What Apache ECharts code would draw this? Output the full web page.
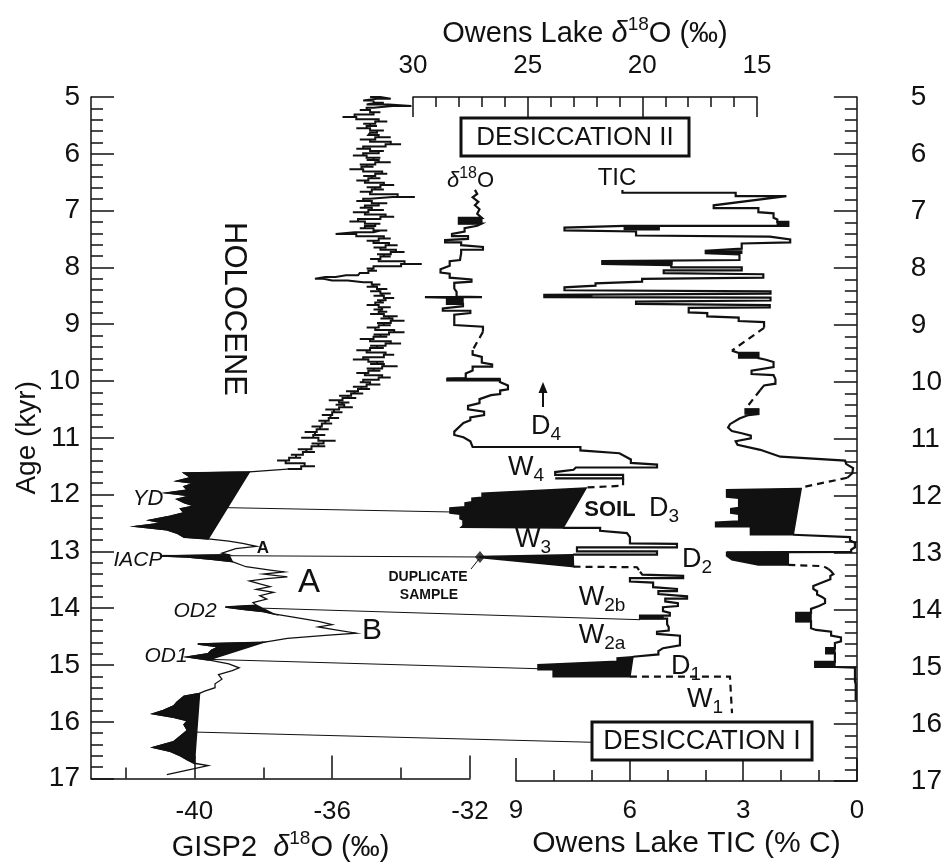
<!DOCTYPE html>
<html><head><meta charset="utf-8">
<script src="https://cdn.jsdelivr.net/npm/echarts@6/dist/echarts.min.js"></script>
<style>html,body{margin:0;padding:0;background:#fff}#c{width:945px;height:867px}</style>
</head><body><div id="c"></div>
<script>
const FONT = '"Liberation Sans", Arial, Helvetica, sans-serif';
const INK = '#111';

// ---- axis ticks ----
const ageTicks = [5,6,7,8,9,10,11,12,13,14,15,16,17];
const gispRange = [-43, -32];
const gispMajorTicks = [-40, -36, -32];
const gispMinorTicks = [-42, -38, -34];
const ticTicks = [0, 3, 6, 9];
const owensO18Ticks = [15, 20, 25, 30];

// ---- GISP2 d18O  [value (permil), age (kyr)] ----
const gisp2 = [
[-34.9,5.00],[-34.3,5.03],[-35.1,5.06],[-34.5,5.10],[-35.0,5.13],[-33.7,5.16],[-34.8,5.19],[-35.2,5.23],[-34.6,5.27],[-35.0,5.31],
[-35.7,5.35],[-34.9,5.39],[-34.4,5.43],[-35.1,5.47],[-34.7,5.51],[-35.3,5.55],[-34.5,5.59],[-34.9,5.63],[-35.0,5.67],[-34.3,5.71],
[-35.2,5.75],[-34.6,5.79],[-34.0,5.83],[-34.9,5.87],[-35.3,5.91],[-34.5,5.95],[-34.8,5.99],[-35.4,6.03],[-34.6,6.07],[-35.0,6.11],
[-34.3,6.15],[-35.2,6.19],[-34.8,6.23],[-35.5,6.27],[-34.7,6.31],[-34.4,6.35],[-35.1,6.39],[-34.6,6.43],[-35.3,6.47],[-34.8,6.51],
[-34.2,6.55],[-35.0,6.59],[-34.5,6.63],[-35.2,6.67],[-34.6,6.71],[-33.6,6.76],[-34.9,6.79],[-35.3,6.83],[-34.4,6.87],[-34.9,6.91],
[-35.2,6.95],[-34.5,6.99],[-35.4,7.03],[-34.7,7.07],[-34.2,7.11],[-35.0,7.15],[-35.5,7.19],[-34.6,7.23],[-34.9,7.27],[-35.2,7.31],
[-34.4,7.35],[-34.8,7.38],[-35.9,7.41],[-34.7,7.45],[-34.3,7.49],[-35.0,7.53],[-34.6,7.57],[-34.1,7.61],[-34.8,7.65],[-34.4,7.69],
[-33.9,7.73],[-34.7,7.77],[-34.3,7.81],[-34.9,7.85],[-34.4,7.89],[-33.4,7.94],[-34.6,7.98],[-35.0,8.02],[-34.7,8.06],[-35.2,8.10],
[-35.3,8.14],[-35.9,8.17],[-36.5,8.20],[-36.0,8.23],[-35.1,8.26],[-34.6,8.30],[-35.0,8.34],[-34.4,8.38],[-34.9,8.42],[-34.3,8.46],
[-34.8,8.50],[-34.2,8.54],[-34.7,8.58],[-34.5,8.62],[-35.0,8.66],[-34.3,8.70],[-34.8,8.74],[-34.4,8.78],[-34.9,8.82],[-34.1,8.86],
[-34.6,8.90],[-33.9,8.94],[-34.7,8.98],[-34.3,9.02],[-35.0,9.06],[-34.5,9.10],[-33.9,9.14],[-34.8,9.18],[-34.4,9.22],[-35.2,9.26],
[-34.6,9.30],[-34.0,9.34],[-34.9,9.38],[-34.5,9.42],[-35.3,9.46],[-34.7,9.50],[-34.2,9.54],[-34.8,9.58],[-35.4,9.62],[-34.5,9.66],
[-34.9,9.70],[-34.1,9.74],[-35.0,9.78],[-34.6,9.82],[-35.3,9.86],[-34.8,9.90],[-34.3,9.94],[-35.0,9.98],
[-35.2,10.02],[-34.6,10.06],[-35.4,10.10],[-34.9,10.14],[-35.6,10.18],[-35.1,10.22],[-35.8,10.26],[-35.3,10.30],[-36.1,10.34],[-35.5,10.38],
[-35.9,10.42],[-35.4,10.46],[-36.2,10.50],[-35.7,10.55],[-36.3,10.60],[-35.8,10.65],[-36.4,10.70],[-36.0,10.75],[-36.6,10.80],[-36.1,10.85],
[-36.8,10.90],[-36.2,10.95],[-36.9,11.00],[-35.9,11.05],[-36.6,11.10],[-36.2,11.15],[-37.0,11.20],[-36.5,11.25],[-37.2,11.30],[-36.9,11.35],
[-37.6,11.40],[-37.1,11.45],[-36.5,11.50],[-37.3,11.55],
[-38.4,11.60],[-40.3,11.62],[-40.1,11.70],[-40.5,11.76],[-40.0,11.80],[-40.3,11.86],[-40.2,11.92],[-40.8,11.97],[-40.1,12.02],[-40.5,12.08],
[-40.3,12.14],[-40.0,12.20],[-40.4,12.25],[-40.3,12.32],[-40.7,12.38],[-41.3,12.45],[-40.9,12.50],[-41.7,12.56],[-40.8,12.62],[-40.5,12.68],
[-40.3,12.75],[-39.6,12.78],
[-39.0,12.82],[-38.6,12.86],[-38.2,12.91],[-38.8,12.95],[-39.2,13.03],
[-39.0,13.06],[-41.0,13.08],[-40.2,13.10],[-39.5,13.14],[-38.9,13.18],
[-38.5,13.27],[-37.8,13.33],[-37.4,13.36],[-38.0,13.40],[-37.3,13.45],[-37.9,13.48],[-38.4,13.52],[-38.1,13.57],[-37.8,13.62],[-38.2,13.67],
[-37.7,13.72],[-38.1,13.78],[-37.9,13.84],[-38.3,13.90],
[-38.2,13.95],[-39.1,13.98],[-38.6,14.02],[-38.0,14.06],[-37.7,14.10],
[-37.0,14.17],[-36.4,14.23],[-36.0,14.29],[-36.4,14.33],[-35.9,14.38],[-35.3,14.44],[-36.2,14.48],[-37.3,14.53],
[-38.0,14.60],[-39.9,14.63],[-39.3,14.68],[-39.5,14.74],[-39.6,14.80],[-40.2,14.86],[-39.6,14.91],
[-39.0,14.98],[-38.7,15.05],[-38.9,15.10],[-39.3,15.17],[-39.2,15.25],[-39.4,15.33],[-39.4,15.40],[-39.7,15.46],
[-39.85,15.50],[-40.3,15.55],[-40.5,15.65],[-40.6,15.72],[-40.9,15.80],[-41.2,15.86],[-40.6,15.92],[-40.2,15.98],[-40.3,16.05],[-40.2,16.15],
[-40.4,16.25],[-40.6,16.35],[-41.2,16.45],[-40.7,16.52],[-40.4,16.60],[-40.2,16.67],[-40.0,16.73],
[-39.6,16.77],[-40.2,16.85],[-40.8,16.93]
];
// the high-resolution Holocene part is drawn as steps; ages up to this value
const gispStepUntil = 11.55;
// age ranges of the black-filled GISP2 cold events (YD, IACP, OD2, OD1, older)
const gispFillRanges = [[11.60,12.78],[13.06,13.18],[13.95,14.10],[14.60,14.91],[15.50,16.73]];

// ---- Owens Lake d18O  [value (permil), age] ----
const o18Solid = [
[[27.30,6.63],[27.20,6.70],[27.40,6.76],[27.15,6.84],[27.30,6.90],[27.10,6.97],[27.20,7.05],[27.00,7.12],[28.00,7.12],[28.00,7.22],[27.00,7.22],
 [27.20,7.26],[27.75,7.30],[27.75,7.36],[28.30,7.40],[28.30,7.44],[27.60,7.44],[27.60,7.49],[28.60,7.51],[28.60,7.55],[27.90,7.55],[27.90,7.60],
 [26.95,7.63],[26.95,7.68],[27.90,7.68],[27.90,7.74],[27.95,7.86],[28.40,7.88],[28.40,7.96],[28.80,8.02],[28.80,8.08],[28.40,8.10],[28.40,8.17],
 [27.45,8.20],[27.45,8.24],[28.20,8.26],[28.20,8.36],[28.10,8.42],[28.10,8.50],[26.99,8.51],[29.48,8.51],[28.52,8.52],[28.52,8.63],[27.82,8.63],
 [27.82,8.67],[28.70,8.71],[28.70,8.75],[27.50,8.75],[27.50,8.79],[28.20,8.82],[28.20,9.00],[26.95,9.03],[26.95,9.12]],
[[27.40,9.44],[27.40,9.52],[27.00,9.56],[27.00,9.66],[26.55,9.69],[26.55,9.73],[27.40,9.73],[27.40,9.80],[27.70,9.85],[27.70,9.93],[28.52,9.94],
 [26.21,9.96],[26.21,10.00],[25.86,10.06],[25.86,10.13],[26.20,10.15],[26.20,10.21],[26.60,10.23],[27.10,10.30],[27.10,10.37],[27.60,10.42],
 [27.60,10.48],[26.90,10.52],[26.90,10.58],[27.50,10.62],[27.50,10.67],[27.80,10.72],[28.20,10.87],[28.20,10.93],[27.80,10.97],[27.50,11.04],
 [27.40,11.14],[22.70,11.14],[22.70,11.20],[21.00,11.25],[20.50,11.36],[20.50,11.42],[19.36,11.45],[19.36,11.50],[22.90,11.50],[23.00,11.54],
 [23.80,11.58],[23.80,11.63],[20.84,11.63],[20.84,11.69],[23.80,11.69]],
[[23.46,12.56],[21.84,12.56],[21.84,12.61],[20.67,12.65],[20.54,12.72],[20.54,12.83],[18.49,12.84],[18.49,12.90],[22.85,12.90],[22.85,12.97],
 [19.36,12.97],[19.36,13.03],[23.02,13.03]],
[[20.10,13.33],[20.00,13.38],[18.22,13.40],[18.22,13.44],[20.54,13.44],[20.54,13.50],[19.53,13.52],[19.53,13.60],[18.49,13.63],[18.49,13.67],
 [19.30,13.67],[19.30,13.72],[18.05,13.76],[18.05,13.80],[19.00,13.80],[19.00,13.85],[18.45,13.88],[18.45,13.93],[19.10,13.95],[19.10,14.02],
 [18.80,14.05],[18.80,14.10],[20.10,14.10],[20.10,14.15],[18.92,14.15],[18.92,14.25],[18.85,14.30],[18.85,14.36],[19.36,14.38],[19.36,14.42],
 [18.36,14.45],[18.36,14.62],[19.10,14.67],[19.30,14.72],[19.30,14.78],[20.41,14.82]]
];
const o18Dashed = [
[[26.95,9.12],[27.40,9.44]],
[[20.84,11.69],[20.84,11.82],[22.45,11.85]],
[[23.00,13.24],[20.23,13.25],[20.10,13.33]],
[[20.54,15.17],[16.18,15.17],[16.09,15.81]]
];
const o18Fills = [
[[27.00,7.12],[28.00,7.12],[28.00,7.22],[27.00,7.22]],
[[27.82,8.51],[28.52,8.51],[28.52,8.63],[27.82,8.63]],
[[26.21,9.94],[28.52,9.94],[28.52,9.98],[26.21,9.98]],
[[22.45,11.86],[26.99,11.95],[26.99,12.02],[27.43,12.04],[27.43,12.10],[27.73,12.12],[27.73,12.19],[28.39,12.21],[28.39,12.30],[27.95,12.32],
 [27.95,12.40],[27.82,12.42],[27.82,12.52],[27.90,12.55],[23.46,12.56]],
[[23.02,13.03],[27.08,13.06],[27.08,13.08],[23.00,13.24]],
[[20.10,14.10],[19.10,14.10],[19.10,14.15],[20.10,14.15]],
[[20.41,14.82],[21.10,14.84],[21.10,14.90],[24.55,14.96],[24.55,15.05],[23.89,15.05],[23.89,15.17],[20.54,15.17]]
];
const duplicateSample = [[27.08,13.07]];

// ---- Owens Lake TIC  [% C, age] ----
const ticSolid = [
[[6.19,6.63],[6.19,6.68],[3.20,6.68],[3.20,6.74],[1.86,6.74],[3.78,6.90],[3.78,6.95],[2.60,6.95],[2.60,7.02],[2.20,7.04],[2.20,7.12],[2.10,7.15],
 [2.10,7.19],[1.81,7.19],[1.81,7.26],[6.14,7.26],[7.72,7.29],[7.72,7.34],[5.83,7.36],[5.83,7.43],[2.30,7.45],[1.76,7.50],[1.76,7.55],[3.04,7.57],
 [3.04,7.66],[3.99,7.70],[3.99,7.74],[3.10,7.76],[3.10,7.86],[6.72,7.88],[6.72,7.93],[4.90,7.95],[4.90,7.99],[3.04,7.99],[3.04,8.04],[5.10,8.04],
 [5.10,8.09],[2.47,8.11],[2.47,8.17],[5.67,8.19],[5.67,8.24],[6.90,8.27],[6.90,8.31],[7.72,8.34],[7.72,8.39],[2.28,8.41],[2.28,8.45],[8.25,8.47],
 [8.25,8.51],[2.28,8.52],[2.28,8.57],[5.83,8.59],[5.83,8.63],[2.30,8.65],[2.30,8.69],[4.44,8.70],[4.44,8.78],[3.95,8.79],[3.95,8.85],[3.12,8.87],
 [3.12,8.93],[2.45,8.95],[2.45,9.05]],
[[3.30,9.45],[3.12,9.49],[2.60,9.49],[2.60,9.58],[2.40,9.61],[2.20,9.65],[2.20,9.74],[2.78,9.80],[2.78,9.86],[2.20,9.88],[2.15,9.95],[2.15,10.03],
 [2.45,10.06],[2.55,10.14]],
[[2.95,10.48],[2.60,10.48],[2.60,10.56],[2.86,10.58],[3.10,10.64],[3.35,10.74],[3.40,10.80],[3.30,10.86],[3.04,10.90],[2.80,10.94],[2.80,10.99],
 [3.20,11.04],[3.15,11.10],[2.55,11.19],[2.02,11.31],[0.31,11.38],[0.28,11.44],[0.10,11.51],[0.12,11.60],[0.25,11.68]],
[[1.68,12.68],[0.18,12.72],[0.18,12.78],[0.05,12.82],[0.05,12.90],[0.15,12.94],[0.15,12.98],[3.44,12.99]],
[[0.75,13.28],[0.68,13.32],[0.62,13.37],[0.70,13.40],[0.70,13.46],[1.15,13.58],[1.15,13.63],[1.05,13.67],[1.05,13.73],[0.92,13.77],[0.84,13.81],
 [0.84,13.88],[1.00,13.93],[1.21,13.98],[1.21,14.05],[1.60,14.05],[1.60,14.20],[1.21,14.20],[1.21,14.32],[1.08,14.35],[0.68,14.38],[0.68,14.45],
 [0.42,14.48],[0.42,14.55],[0.58,14.58],[0.58,14.67],[0.81,14.67],[0.81,14.76],[0.58,14.76],[0.58,14.91],[1.10,14.91],[1.10,15.00],[0.58,15.00],
 [0.05,15.01],[0.05,15.25],[0.03,15.30],[0.03,15.58]]
];
const ticDashed = [
[[2.45,9.05],[3.30,9.45]],
[[2.55,10.14],[2.95,10.48]],
[[0.25,11.68],[1.47,11.85]],
[[1.81,13.21],[0.89,13.23],[0.75,13.28]]
];
const ticFills = [
[[2.10,7.19],[1.81,7.19],[1.81,7.26],[2.10,7.26]],
[[6.14,7.26],[5.22,7.26],[5.22,7.33],[6.14,7.33]],
[[3.99,7.70],[3.04,7.70],[3.04,7.74],[3.99,7.74]],
[[6.72,7.88],[4.88,7.88],[4.88,7.93],[6.72,7.93]],
[[8.25,8.47],[7.00,8.47],[7.00,8.51],[8.25,8.51]],
[[3.12,9.49],[2.60,9.49],[2.60,9.58],[3.12,9.58]],
[[2.95,10.48],[2.60,10.48],[2.60,10.56],[2.95,10.56]],
[[1.47,11.87],[3.44,11.89],[3.44,12.02],[3.12,12.04],[3.12,12.20],[3.33,12.22],[3.33,12.30],[3.12,12.32],[3.12,12.44],[3.73,12.46],[3.73,12.54],
 [2.81,12.54],[2.81,12.68],[1.68,12.68]],
[[3.44,12.99],[1.81,12.99],[1.81,13.21],[2.60,13.21],[3.30,13.12],[3.44,13.05]],
[[1.60,14.05],[1.21,14.05],[1.21,14.20],[1.60,14.20]],
[[0.81,14.67],[0.58,14.67],[0.58,14.76],[0.81,14.76]],
[[1.10,14.91],[0.58,14.91],[0.58,15.00],[1.10,15.00]]
];

// ---- correlation tie lines: GISP2 point -> Owens d18O point ----
const tieLines = [
{gisp:[-39.05,12.23], owens:[28.39,12.28]},
{gisp:[-40.90,13.07], owens:[27.08,13.07]},
{gisp:[-38.00,14.00], owens:[20.10,14.17]},
{gisp:[-39.60,14.90], owens:[24.55,15.03]},
{gisp:[-40.03,16.18], owens:[22.24,16.32]}
];

// ---------------- build -----------------
const gispFills = gispFillRanges.map(r => gisp2.filter(p => p[1] >= r[0] - 1e-9 && p[1] <= r[1] + 1e-9));
const gispHolo = gisp2.filter(p => p[1] <= gispStepUntil + 1e-9);
const gispLate = gisp2.filter(p => p[1] >= gispStepUntil - 1e-9);

function lineS(data, xi, yi, width, dashed, step) {
  return {type:'line', data, xAxisIndex:xi, yAxisIndex:yi, symbol:'none', showSymbol:false, silent:true,
    step: step || false,
    animation:false, lineStyle:{color:INK, width, type: dashed ? [7,5] : 'solid', join:'miter'}, z:3};
}
function polyS(polys, xi, yi) {
  return {type:'custom', xAxisIndex:xi, yAxisIndex:yi, silent:true, animation:false, z:2,
    data: polys.map((p, i) => [p[0][0], p[0][1], i]),
    renderItem: (params, api) => {
      const poly = polys[params.dataIndex];
      return {type:'polygon', shape:{points: poly.map(p => api.coord(p))},
        style:{fill:INK, stroke:INK, lineWidth:1.5}};
    }};
}
const tickLine = {color:INK, width:1.5};
const sup = {fontSize:19, lineHeight:16, verticalAlign:'top', fontFamily:FONT, color:INK};
function yAxisDef(grid, pos, extra) {
  return Object.assign({type:'value', gridIndex:grid, position:pos, min:ageTicks[0], max:ageTicks[ageTicks.length-1],
    interval:1, inverse:true,
    axisLine:{show:true, lineStyle:tickLine},
    axisTick:{show:true, inside:true, length:23, lineStyle:tickLine},
    minorTick:{show:true, splitNumber:5, length:12, lineStyle:tickLine},
    axisLabel:{fontSize:28, color:INK, fontFamily:FONT, margin:11},
    splitLine:{show:false}}, extra || {});
}

const series = [];
series.push(lineS(gispHolo, 0, 0, 2.0, false, 'middle'));
series.push(lineS(gispLate, 0, 0, 1.3, false));
series.push(polyS(gispFills, 0, 0));
o18Solid.forEach(d => series.push(lineS(d, 3, 2, 2.2, false)));
o18Dashed.forEach(d => series.push(lineS(d, 3, 2, 2.2, true)));
series.push(polyS(o18Fills, 3, 2));
series.push({type:'scatter', xAxisIndex:3, yAxisIndex:2, data:duplicateSample, symbol:'diamond', symbolSize:[10,12],
  itemStyle:{color:INK}, silent:true, z:5});
ticSolid.forEach(d => series.push(lineS(d, 2, 1, 2.2, false)));
ticDashed.forEach(d => series.push(lineS(d, 2, 1, 2.2, true)));
series.push(polyS(ticFills, 2, 1));

const nameRich = {n:{fontSize:29, lineHeight:36, fontFamily:FONT, color:INK},
  d:{fontSize:29, lineHeight:36, fontFamily:FONT, fontStyle:'italic', color:INK}, s:sup};

const option = {
  animation:false,
  backgroundColor:'#fff',
  textStyle:{fontFamily:FONT, color:INK},
  grid:[
    {left:91, top:97, width:379, height:684},
    {left:516, top:97, width:343, height:684},
    {left:413, top:97, width:344, height:684}
  ],
  xAxis:[
    {type:'value', gridIndex:0, position:'bottom', min:gispRange[0], max:gispRange[1],
      axisLine:{lineStyle:tickLine},
      axisTick:{customValues:gispMajorTicks, inside:true, length:23, lineStyle:tickLine},
      axisLabel:{customValues:gispMajorTicks, fontSize:26, color:INK, fontFamily:FONT, margin:20},
      splitLine:{show:false},
      name:'{n|GISP2  }{d|δ}{s|18}{n|O (‰)}', nameLocation:'middle', nameGap:46,
      nameTextStyle:{rich:nameRich}},
    {type:'value', gridIndex:0, position:'bottom', offset:0, min:gispRange[0], max:gispRange[1],
      axisLine:{show:false},
      axisTick:{customValues:gispMinorTicks, inside:true, length:11, lineStyle:tickLine},
      axisLabel:{show:false}, splitLine:{show:false}},
    {type:'value', gridIndex:1, position:'bottom', min:ticTicks[0], max:ticTicks[ticTicks.length-1], interval:3, inverse:true,
      axisLine:{lineStyle:tickLine},
      axisTick:{inside:true, length:23, lineStyle:tickLine},
      minorTick:{show:true, splitNumber:3, length:11, lineStyle:tickLine},
      axisLabel:{fontSize:26, color:INK, fontFamily:FONT, margin:17},
      splitLine:{show:false},
      name:'Owens Lake TIC (% C)', nameLocation:'middle', nameGap:46,
      nameTextStyle:{fontSize:30, fontFamily:FONT, color:INK}},
    {type:'value', gridIndex:2, position:'top', min:owensO18Ticks[0], max:owensO18Ticks[owensO18Ticks.length-1], interval:5, inverse:true,
      axisLine:{lineStyle:tickLine},
      axisTick:{inside:true, length:20, lineStyle:tickLine},
      minorTick:{show:true, splitNumber:5, length:10, lineStyle:tickLine},
      axisLabel:{fontSize:26, color:INK, fontFamily:FONT, margin:18},
      splitLine:{show:false},
      name:'{n|Owens Lake }{d|δ}{s|18}{n|O (‰)}', nameLocation:'middle', nameGap:44,
      nameTextStyle:{rich:nameRich}}
  ],
  yAxis:[
    yAxisDef(0, 'left', {name:'Age (kyr)', nameLocation:'middle', nameGap:50,
      nameTextStyle:{fontSize:28, fontFamily:FONT, color:INK}}),
    yAxisDef(1, 'right', {offset:41, axisLabel:{fontSize:28, color:INK, fontFamily:FONT, margin:13}}),
    {type:'value', gridIndex:2, show:false, min:ageTicks[0], max:ageTicks[ageTicks.length-1], inverse:true}
  ],
  series
};

const chart = echarts.init(document.getElementById('c'), null, {renderer:'canvas'});
chart.setOption(option);

// ---------- annotations ----------
function txt(x, y, text, size, extra) {
  return {type:'text', x, y, z:10, silent:true,
    style:Object.assign({text, fontSize:size, fontFamily:FONT, fill:INK, align:'center', verticalAlign:'middle'}, extra || {})};
}
function sub(x, y, main, s) {
  return {type:'text', x, y, z:10, silent:true,
    style:{text:'{m|' + main + '}{s|' + s + '}', align:'center', verticalAlign:'middle', fill:INK,
      rich:{m:{fontSize:27, lineHeight:34, fontFamily:FONT, fill:INK},
            s:{fontSize:19, lineHeight:18, verticalAlign:'bottom', fontFamily:FONT, fill:INK}}}};
}
const els = [];
tieLines.forEach(t => {
  const a = chart.convertToPixel({xAxisIndex:0, yAxisIndex:0}, t.gisp);
  const b = chart.convertToPixel({xAxisIndex:3, yAxisIndex:2}, t.owens);
  els.push({type:'line', silent:true, z:1, shape:{x1:a[0], y1:a[1], x2:b[0], y2:b[1]}, style:{stroke:INK, lineWidth:1}});
});
els.push(
  {type:'rect', z:8, silent:true, shape:{x:461, y:118, width:228, height:38}, style:{fill:'#fff', stroke:INK, lineWidth:3}},
  txt(575, 138, 'DESICCATION II', 26),
  {type:'rect', z:8, silent:true, shape:{x:592, y:722, width:220, height:38}, style:{fill:'#fff', stroke:INK, lineWidth:3}},
  txt(702, 742, 'DESICCATION I', 27),
  {type:'text', x:234, y:309, rotation:-Math.PI/2, z:10, silent:true,
    style:{text:'HOLOCENE', fontSize:31, fontFamily:FONT, fill:INK, align:'center', verticalAlign:'middle'}},
  {type:'text', x:447, y:181, z:10, silent:true,
    style:{text:'{d|δ}{s|18}{m|O}', align:'left', verticalAlign:'middle', fill:INK,
      rich:{d:{fontSize:22, lineHeight:30, fontStyle:'italic', fontFamily:FONT, fill:INK},
            s:{fontSize:16, lineHeight:14, verticalAlign:'top', fontFamily:FONT, fill:INK},
            m:{fontSize:22, lineHeight:30, fontFamily:FONT, fill:INK}}}},
  txt(617, 178, 'TIC', 24),
  txt(148, 499, 'YD', 22, {fontStyle:'italic'}),
  txt(138, 560, 'IACP', 21, {fontStyle:'italic'}),
  txt(263, 548, 'A', 17, {fontWeight:'bold'}),
  txt(309, 583, 'A', 33),
  txt(195, 611, 'OD2', 21, {fontStyle:'italic'}),
  txt(372, 631, 'B', 30),
  txt(166, 656, 'OD1', 21, {fontStyle:'italic'}),
  txt(428, 577, 'DUPLICATE', 14, {fontWeight:'bold'}),
  txt(429, 595, 'SAMPLE', 14, {fontWeight:'bold'}),
  {type:'line', z:6, silent:true, shape:{x1:479, y1:559, x2:471, y2:569}, style:{stroke:INK, lineWidth:1}},
  {type:'line', z:6, silent:true, shape:{x1:543, y1:407, x2:543, y2:390}, style:{stroke:INK, lineWidth:2}},
  {type:'polygon', z:6, silent:true, shape:{points:[[543,382],[538.5,393],[547.5,393]]}, style:{fill:INK}},
  sub(546, 427, 'D', '4'),
  sub(526, 468, 'W', '4'),
  txt(610, 510, 'SOIL', 22, {fontWeight:'bold'}),
  sub(664, 509, 'D', '3'),
  sub(533, 540, 'W', '3'),
  sub(697, 560, 'D', '2'),
  sub(602, 598, 'W', '2b'),
  sub(602, 636, 'W', '2a'),
  sub(686, 667, 'D', '1'),
  sub(705, 700, 'W', '1')
);
chart.setOption({graphic:{elements:els}});
</script>
</body></html>
